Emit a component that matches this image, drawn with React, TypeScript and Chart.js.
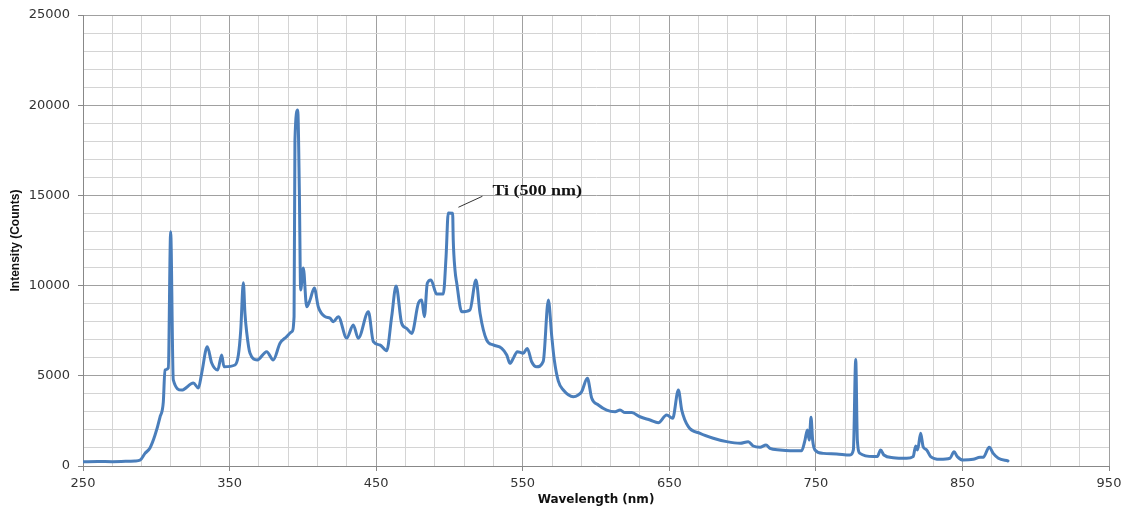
import React, { useEffect, useRef } from "react";
import { Chart, registerables } from "chart.js";

Chart.register(...registerables);

// Emission spectrum samples: wavelength (nm) and intensity (counts)
const WAVELENGTHS = [
  250, 260, 270, 280, 285.5, 288.9, 292.3, 295.7, 299.1, 302.5, 304.8, 305.9, 308.2, 309.8,
  311.6, 317.3, 325.3, 328.7, 331.0, 334.8, 337.8, 341.9, 344.6, 346.2, 353.7, 356.0, 357.6,
  359.4, 360.5, 361.7, 363.9, 368.9, 375.3, 379.8, 384.4, 387.8, 392.4, 394.0, 394.6, 396.5,
  397.6, 398.5, 400.3, 402.6, 404.9, 407.8, 410.5, 415.1, 418.5, 420.8, 424.2, 429.9, 434.4,
  437.8, 444.7, 448.1, 452.6, 457.2, 460.6, 463.6, 467.4, 470.8, 474.3, 478.8, 481.1, 482.9,
  484.9, 487.4, 491.3, 495.8, 497.7, 499.2, 502.2, 502.6, 503.8, 505.0, 508.4, 514.0, 518.1,
  520.9, 525.4, 529.9, 535.7, 539.1, 541.3, 543.6, 546.3, 550.4, 553.1, 556.1, 559.5, 564.0,
  567.5, 569.8, 571.5, 574.3, 577.7, 584.5, 587.9, 590.2, 594.1, 597.1, 601.6, 607.3, 613.0,
  616.4, 619.8, 624.4, 630.0, 636.9, 642.5, 648.2, 652.3, 656.2, 658.5, 663.0, 671.0, 680.0,
  689.2, 698.3, 703.9, 707.3, 711.9, 716.0, 718.7, 725.5, 732.4, 740.3, 742.6, 744.2, 745.5,
  746.7, 747.8, 749.4, 755.1, 764.2, 773.3, 775.6, 777.2, 778.3, 780.1, 789.2, 791.9, 794.2,
  796.4, 802.8, 811.9, 816.4, 818.1, 819.4, 821.5, 823.2, 825.6, 828.3, 834.7, 841.5, 844.3,
  846.5, 850.6, 857.4, 862.0, 864.2, 868.3, 871.0, 874.5, 881.1,
];

const INTENSITIES = [
  230, 250, 240, 260, 280, 320, 700, 1000, 1700, 2700, 3560, 5320, 5430, 12990,
  4770, 4210, 4600, 4320, 5150, 6610, 5710, 5320, 6150, 5500, 5600, 6150, 7500,
  10160, 8460, 7400, 6260, 5880, 6340, 5880, 6800, 7090, 7440, 8280, 18070, 19730,
  15300, 9760, 10980, 8830, 9200, 9870, 8830, 8280, 8200, 8000, 8280, 7090, 7820,
  7080, 8550, 6890, 6710, 6390, 8280, 9980, 7910, 7630, 7350, 9020, 9200, 8280,
  10130, 10310, 9530, 9530, 11600, 14020, 14010, 12530, 10860, 10130, 8550, 8650, 10310,
  8460, 6980, 6710, 6520, 6150, 5690, 5970, 6340, 6250, 6520, 5780, 5500, 5800,
  9200, 7200, 5900, 4700, 4210, 3840, 3940, 4120, 4860, 3750, 3380, 3100, 3010,
  3100, 2960, 2960, 2730, 2550, 2400, 2830, 2640, 4210, 3100, 2180, 1810, 1540,
  1350, 1260, 1350, 1110, 1040, 1160, 980, 890, 850, 850, 1440, 2000, 1440,
  2700, 1440, 890, 700, 670, 610, 890, 5910, 1440, 700, 520, 520, 890,
  610, 460, 430, 520, 1110, 890, 1810, 1070, 890, 520, 370, 430, 790,
  520, 330, 370, 480, 480, 1040, 700, 430, 280,
];

// Axis range and tick spacing
const X_MIN = 250;
const X_MAX = 950;
const X_MAJOR = 100;
const X_MINOR = 20;
const Y_MIN = 0;
const Y_MAX = 25000;
const Y_MAJOR = 5000;
const Y_MINOR = 1000;

// Labelled line
const TI_LABEL = "Ti (500 nm)";
const TI_WAVELENGTH = 500;
const TI_INTENSITY = 14010;

const LINE_COLOR = "#4a7ebb";
const MAJOR_GRID = "#a0a0a0";
const MINOR_GRID = "#d4d4d4";

const range = (a: number, b: number, step: number) => {
  const out: number[] = [];
  for (let v = a; v <= b + 1e-9; v += step) out.push(v);
  return out;
};

const tiLabelPlugin = {
  id: "tiLabel",
  afterDatasetsDraw(chart: any) {
    const { ctx, scales } = chart;
    const px = scales.x.getPixelForValue(TI_WAVELENGTH);
    const py = scales.y.getPixelForValue(TI_INTENSITY);
    ctx.save();
    ctx.strokeStyle = "#333";
    ctx.lineWidth = 1;
    ctx.beginPath();
    ctx.moveTo(px + 9, py - 6);
    ctx.lineTo(px + 33, py - 17);
    ctx.stroke();
    ctx.translate(px + 43, py - 18);
    ctx.scale(1.2, 1);
    ctx.fillStyle = "#111";
    ctx.font = "bold 15px 'Liberation Serif', 'Times New Roman', serif";
    ctx.textBaseline = "alphabetic";
    ctx.fillText(TI_LABEL, 0, 0);
    ctx.restore();
  },
};

export default function App() {
  const canvasRef = useRef<HTMLCanvasElement | null>(null);

  useEffect(() => {
    document.body.style.margin = "0";
    const canvas = canvasRef.current;
    if (!canvas) return;
    const points = WAVELENGTHS.map((x, i) => ({ x, y: INTENSITIES[i] }));

    const chart = new Chart(canvas, {
      type: "line",
      data: {
        datasets: [
          {
            data: points,
            borderColor: LINE_COLOR,
            borderWidth: 3,
            pointRadius: 0,
            cubicInterpolationMode: "monotone",
            fill: false,
            borderJoinStyle: "round",
            borderCapStyle: "round",
          },
        ],
      },
      options: {
        animation: false,
        responsive: false,
        devicePixelRatio: 1,
        layout: { padding: { top: 15, right: 19, left: 0, bottom: 0 } },
        plugins: {
          legend: { display: false },
          tooltip: { enabled: false },
        },
        scales: {
          x: {
            type: "linear",
            min: X_MIN,
            max: X_MAX,
            afterBuildTicks: (scale: any) => {
              scale.ticks = range(X_MIN, X_MAX, X_MINOR).map((value) => ({ value }));
            },
            afterFit: (scale: any) => {
              scale.height = 44;
              scale.paddingLeft = 0;
              scale.paddingRight = 0;
            },
            ticks: {
              autoSkip: false,
              maxRotation: 0,
              padding: 5,
              color: "#333",
              font: { family: "'DejaVu Sans', sans-serif", size: 13 },
              callback: (v: any) => ((Number(v) - X_MIN) % X_MAJOR === 0 ? String(v) : ""),
            },
            grid: {
              color: (c: any) =>
                (c.tick.value - X_MIN) % X_MAJOR === 0 ? MAJOR_GRID : MINOR_GRID,
              tickColor: (c: any) =>
                (c.tick.value - X_MIN) % X_MAJOR === 0 ? "#888" : "rgba(0,0,0,0)",
              tickLength: 5,
              lineWidth: 1,
            },
            border: { color: "#888" },
            title: {
              display: true,
              text: "Wavelength (nm)",
              color: "#111",
              font: { family: "'DejaVu Sans', sans-serif", size: 12, weight: "bold" },
              padding: { top: 0, bottom: 3 },
            },
          },
          y: {
            type: "linear",
            min: Y_MIN,
            max: Y_MAX,
            afterBuildTicks: (scale: any) => {
              scale.ticks = range(Y_MIN, Y_MAX, Y_MINOR).map((value) => ({ value }));
            },
            afterFit: (scale: any) => {
              scale.width = 83;
              scale.paddingTop = 0;
              scale.paddingBottom = 0;
            },
            ticks: {
              autoSkip: false,
              padding: 8,
              color: "#333",
              font: { family: "'DejaVu Sans', sans-serif", size: 13 },
              callback: (v: any) => (Number(v) % Y_MAJOR === 0 ? String(v) : ""),
            },
            grid: {
              color: (c: any) => (c.tick.value % Y_MAJOR === 0 ? MAJOR_GRID : MINOR_GRID),
              tickColor: (c: any) =>
                c.tick.value % Y_MAJOR === 0 ? "#888" : "rgba(0,0,0,0)",
              tickLength: 5,
              lineWidth: 1,
            },
            border: { color: "#888" },
            title: {
              display: true,
              text: "Intensity (Counts)",
              color: "#111",
              font: { family: "'Liberation Sans', Arial, sans-serif", size: 12, weight: "bold" },
              padding: { top: 8, bottom: 0 },
            },
          },
        },
      },
      plugins: [tiLabelPlugin],
    });

    return () => chart.destroy();
  }, []);

  return (
    <div style={{ position: "absolute", left: 0, top: 0, width: 1128, height: 510, background: "#fff" }}>
      <canvas ref={canvasRef} width={1128} height={510} />
    </div>
  );
}
